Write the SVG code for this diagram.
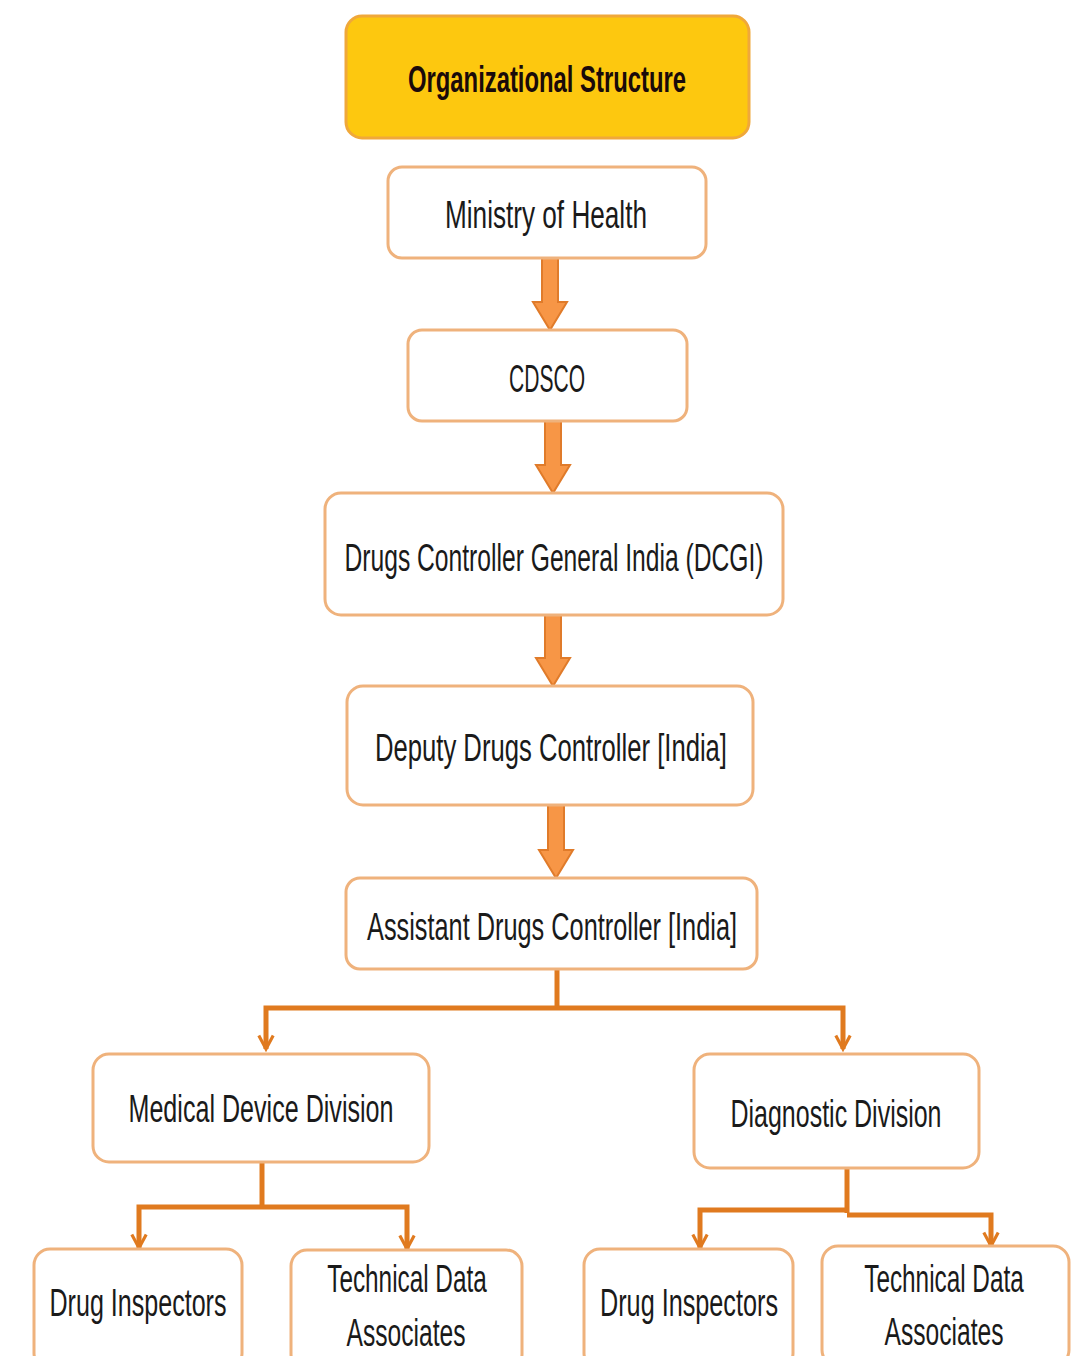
<svg xmlns="http://www.w3.org/2000/svg" width="1087" height="1356" viewBox="0 0 1087 1356">
<defs>
<style>
.box{fill:#ffffff;stroke:#EFB27C;stroke-width:3}
.title{fill:#FDC80F;stroke:#F0A83A;stroke-width:3}
.t{font-family:"Liberation Sans",Arial,sans-serif;font-size:38px;fill:#1a1a1a;text-anchor:middle}
.tb{font-family:"Liberation Sans",Arial,sans-serif;font-size:36px;font-weight:bold;fill:#1a0a0a;text-anchor:middle}
.block{fill:#F79646;stroke:#E07B2A;stroke-width:2}
.conn{fill:none;stroke:#E07A1F;stroke-width:5;stroke-linejoin:miter}
</style>
<marker id="v" viewBox="0 0 20 20" refX="17" refY="10" markerWidth="18" markerHeight="20" markerUnits="userSpaceOnUse" orient="auto">
<path d="M2,2 L17,10 L2,18" fill="none" stroke="#E07A1F" stroke-width="3.5"/>
</marker>
</defs>
<rect width="1087" height="1356" fill="#ffffff"/>

<g id="connectors">
<polygon class="block" points="542,258 558,258 558,302 567,302 550,330 533,302 542,302"/>
<polygon class="block" points="545,421 561,421 561,465 570,465 553,493 536,465 545,465"/>
<polygon class="block" points="545,615 561,615 561,658 570,658 553,686 536,658 545,658"/>
<polygon class="block" points="548,805 564,805 564,850 573,850 556,878 539,850 548,850"/>
<path class="conn" d="M557,969 V1008"/>
<path class="conn" d="M557,1008 H266 V1049" marker-end="url(#v)"/>
<path class="conn" d="M557,1008 H843 V1049" marker-end="url(#v)"/>
<path class="conn" d="M262,1162 V1207"/>
<path class="conn" d="M262,1207 H139 V1248" marker-end="url(#v)"/>
<path class="conn" d="M262,1207 H407 V1249" marker-end="url(#v)"/>
<path class="conn" d="M847,1168 V1213"/>
<path class="conn" d="M847,1210 H700 V1248" marker-end="url(#v)"/>
<path class="conn" d="M847,1215 H991 V1246" marker-end="url(#v)"/>
</g>

<g id="title">
<rect class="title" x="346" y="16" width="403" height="122" rx="16"/>
<text class="tb" x="547" y="92" textLength="278" lengthAdjust="spacingAndGlyphs">Organizational Structure</text>
</g>
<g id="ministry">
<rect class="box" x="388" y="167" width="318" height="91" rx="14"/>
<text class="t" x="546" y="228" textLength="202" lengthAdjust="spacingAndGlyphs">Ministry of Health</text>
</g>
<g id="cdsco">
<rect class="box" x="408" y="330" width="279" height="91" rx="14"/>
<text class="t" x="547" y="392" textLength="76" lengthAdjust="spacingAndGlyphs">CDSCO</text>
</g>
<g id="dcgi">
<rect class="box" x="325" y="493" width="458" height="122" rx="16"/>
<text class="t" x="554" y="571" textLength="419" lengthAdjust="spacingAndGlyphs">Drugs Controller General India (DCGI)</text>
</g>
<g id="deputy">
<rect class="box" x="347" y="686" width="406" height="119" rx="16"/>
<text class="t" x="551" y="761" textLength="352" lengthAdjust="spacingAndGlyphs">Deputy Drugs Controller [India]</text>
</g>
<g id="assistant">
<rect class="box" x="346" y="878" width="411" height="91" rx="14"/>
<text class="t" x="552" y="940" textLength="370" lengthAdjust="spacingAndGlyphs">Assistant Drugs Controller [India]</text>
</g>
<g id="medical">
<rect class="box" x="93" y="1054" width="336" height="108" rx="16"/>
<text class="t" x="261" y="1122" textLength="265" lengthAdjust="spacingAndGlyphs">Medical Device Division</text>
</g>
<g id="diagnostic">
<rect class="box" x="694" y="1054" width="285" height="114" rx="16"/>
<text class="t" x="836" y="1127" textLength="211" lengthAdjust="spacingAndGlyphs">Diagnostic Division</text>
</g>
<g id="drug-inspectors-left">
<rect class="box" x="34" y="1249" width="208" height="120" rx="16"/>
<text class="t" x="138" y="1316" textLength="177" lengthAdjust="spacingAndGlyphs">Drug Inspectors</text>
</g>
<g id="tda-left">
<rect class="box" x="291" y="1250" width="231" height="120" rx="16"/>
<text class="t" transform="translate(407,1292) scale(0.64,1)">Technical Data</text>
<text class="t" x="406" y="1346" textLength="119" lengthAdjust="spacingAndGlyphs">Associates</text>
</g>
<g id="drug-inspectors-right">
<rect class="box" x="584" y="1249" width="209" height="120" rx="16"/>
<text class="t" x="689" y="1316" textLength="178" lengthAdjust="spacingAndGlyphs">Drug Inspectors</text>
</g>
<g id="tda-right">
<rect class="box" x="822" y="1246" width="247" height="120" rx="16"/>
<text class="t" transform="translate(944,1292) scale(0.64,1)">Technical Data</text>
<text class="t" x="944" y="1345" textLength="119" lengthAdjust="spacingAndGlyphs">Associates</text>
</g>
</svg>
